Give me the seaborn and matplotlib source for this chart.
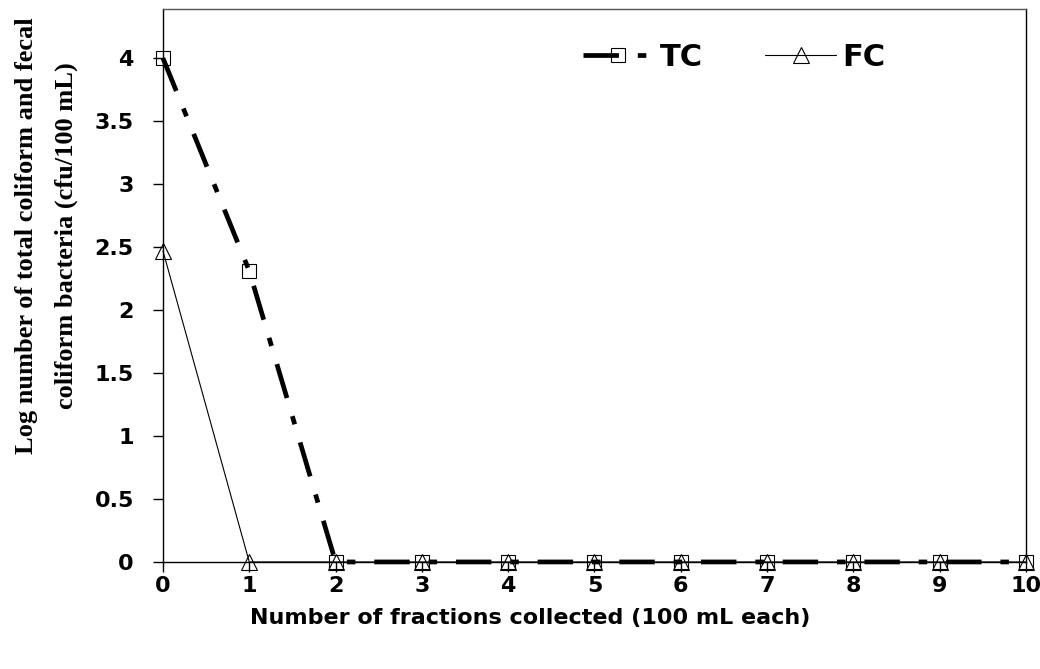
import numpy as np
import pandas as pd
import matplotlib
matplotlib.use("Agg")
import matplotlib.pyplot as plt
import seaborn as sns

# ---- data ----
fractions = [0, 1, 2, 3, 4, 5, 6, 7, 8, 9, 10]
tc_values = [4.0, 2.31, 0, 0, 0, 0, 0, 0, 0, 0, 0]
fc_values = [2.47, 0, 0, 0, 0, 0, 0, 0, 0, 0, 0]
series_names = ["TC", "FC"]
y_ticks = [0, 0.5, 1, 1.5, 2, 2.5, 3, 3.5, 4]
y_tick_labels = ["0", "0.5", "1", "1.5", "2", "2.5", "3", "3.5", "4"]
x_tick_labels = [str(v) for v in fractions]

sns.set_theme(style="white")
plt.rcParams['font.family'] = ['DejaVu Sans']
plt.rcParams['text.color'] = 'black'
plt.rcParams['axes.labelcolor'] = 'black'
plt.rcParams['xtick.color'] = 'black'
plt.rcParams['ytick.color'] = 'black'

fig = plt.figure(figsize=(10.4, 6.69), dpi=100)
ax = fig.add_axes([0.1567, 0.160, 0.9865 - 0.1567, 0.9865 - 0.160])

df_fc = pd.DataFrame({"x": fractions, "y": fc_values})
df_tc = pd.DataFrame({"x": fractions, "y": tc_values})

sns.lineplot(data=df_fc, x="x", y="y", ax=ax, color="black", linewidth=0.8,
             marker="^", markersize=12, markerfacecolor="none",
             markeredgecolor="black", markeredgewidth=0.8,
             label=series_names[1], clip_on=False, zorder=3)
sns.lineplot(data=df_tc, x="x", y="y", ax=ax, color="black", linewidth=3.4,
             linestyle=(0, (7.5, 4.0, 1.8, 4.0)),
             marker="s", markersize=10.5, markerfacecolor="none",
             markeredgecolor="black", markeredgewidth=0.8,
             label=series_names[0], clip_on=False, zorder=4)

ax.set_xlim(0, 10)
ax.set_ylim(0, 4.39)
ax.set_xticks(fractions)
ax.set_xticklabels(x_tick_labels)
ax.set_yticks(y_ticks)
ax.set_yticklabels(y_tick_labels)

for s in ax.spines.values():
    s.set_visible(True)
    s.set_color("black")
    s.set_linewidth(1.0)
ax.spines["top"].set_color("#555555")

ax.tick_params(axis="both", which="major", direction="out", length=7, width=1,
               color="black", labelsize=16, bottom=True, left=True,
               labelcolor="black")
ax.tick_params(axis="x", pad=3)
ax.tick_params(axis="y", pad=14)
for lab in ax.get_xticklabels() + ax.get_yticklabels():
    lab.set_fontweight("bold")

ax.set_xlabel("Number of fractions collected (100 mL each)", fontsize=16,
              fontweight="bold", labelpad=9, x=0.426)
ax.set_ylabel("Log number of total coliform and fecal\ncoliform bacteria (cfu/100 mL)",
              fontsize=19, fontweight="bold", family=["Liberation Serif", "DejaVu Serif"],
              linespacing=1.95)
ax.yaxis.set_label_coords(-0.098, 0.59)

handles, labels = ax.get_legend_handles_labels()
order = [labels.index("TC"), labels.index("FC")]
leg = ax.legend([handles[i] for i in order], [labels[i] for i in order],
                loc="center left", bbox_to_anchor=(0.487, 0.913), ncol=2,
                frameon=False, handlelength=2.3, handletextpad=0.2,
                columnspacing=2.05, borderpad=0, borderaxespad=0,
                prop={"weight": "bold", "size": 22, "family": "DejaVu Sans"})

fig.savefig("out.png", dpi=100)
